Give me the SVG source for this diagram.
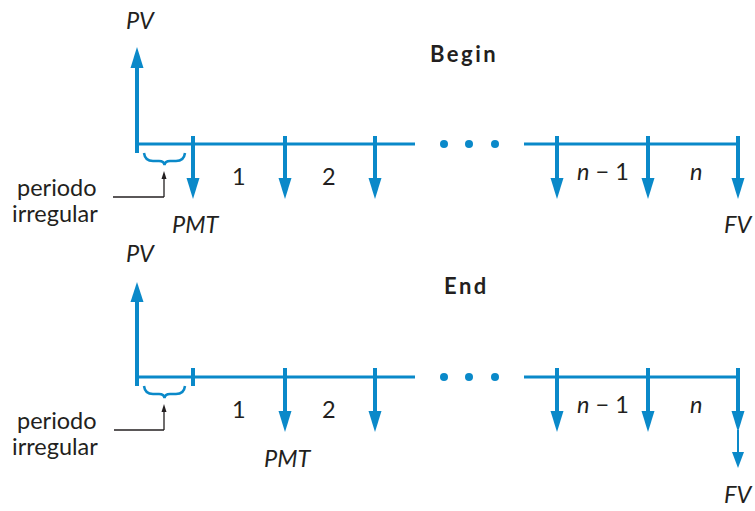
<svg xmlns="http://www.w3.org/2000/svg" width="755" height="511" viewBox="0 0 755 511">
<defs>
<style>
.ax{stroke:#0a89c9;stroke-width:3;fill:none}
.ar{stroke:#0a89c9;stroke-width:4;fill:none}
.thin{stroke:#0a89c9;stroke-width:2;fill:none}
.hd{fill:#0a89c9}
.br{stroke:#0a89c9;stroke-width:2.5;fill:none}
.ld{stroke:#231f20;stroke-width:1.3;fill:none}
.dot{fill:#0a89c9}
text{font-family:Lato,"Open Sans",sans-serif;fill:#231f20;font-size:23.5px}
.it{font-style:italic}
.b{font-weight:bold;letter-spacing:2.5px;font-size:22px}
</style>
</defs>
<rect width="755" height="511" fill="#fff"/>

<!-- Top: Begin -->
<g id="begin-title"><text class="b" x="430" y="62">Begin</text></g>
<g id="begin-pv">
<line class="ar" x1="137" y1="153" x2="137" y2="64"/>
<polygon class="hd" points="137,47 130.5,68 143.5,68"/>
<text class="it" x="126" y="29">PV</text>
</g>
<g id="begin-axis">
<line class="ax" x1="137" y1="144" x2="415" y2="144"/>
<circle class="dot" cx="444" cy="144" r="4"/>
<circle class="dot" cx="469" cy="144" r="4"/>
<circle class="dot" cx="495" cy="144" r="4"/>
<line class="ax" x1="524" y1="144" x2="738" y2="144"/>
</g>
<g id="begin-payments">
<line class="ar" x1="193" y1="136" x2="193" y2="182"/><polygon class="hd" points="193,199 186.5,178 199.5,178"/>
<line class="ar" x1="285" y1="136" x2="285" y2="182"/><polygon class="hd" points="285,199 278.5,178 291.5,178"/>
<line class="ar" x1="375" y1="136" x2="375" y2="182"/><polygon class="hd" points="375,199 368.5,178 381.5,178"/>
<line class="ar" x1="557" y1="136" x2="557" y2="182"/><polygon class="hd" points="557,199 550.5,178 563.5,178"/>
<line class="ar" x1="648" y1="136" x2="648" y2="182"/><polygon class="hd" points="648,199 641.5,178 654.5,178"/>
<line class="ar" x1="738" y1="136" x2="738" y2="182"/><polygon class="hd" points="738,199 731.5,178 744.5,178"/>
</g>
<g id="begin-labels">
<text x="232" y="185">1</text>
<text x="322" y="185">2</text>
<text x="577" y="180"><tspan class="it">n</tspan> − 1</text>
<text class="it" x="690" y="180">n</text>
<text class="it" x="172" y="233">PMT</text>
<text class="it" x="724" y="233">FV</text>
</g>
<g id="begin-irregular">
<path class="br" d="M144,153 Q145,161 153,161 L159,161 Q164,161 164.5,165 Q165,161 170,161 L176,161 Q184,161 185,153"/>
<line class="ld" x1="113" y1="197" x2="164" y2="197"/>
<line class="ld" x1="164" y1="197" x2="164" y2="176"/>
<polygon fill="#231f20" points="164,171 161.5,179 166.5,179"/>
<text x="17" y="196">periodo</text>
<text x="12" y="222">irregular</text>
</g>

<!-- Bottom: End -->
<g id="end-title"><text class="b" x="444" y="294">End</text></g>
<g id="end-pv">
<line class="ar" x1="137" y1="386" x2="137" y2="298"/>
<polygon class="hd" points="137,282 130.5,302 143.5,302"/>
<text class="it" x="126" y="262">PV</text>
</g>
<g id="end-axis">
<line class="ax" x1="137" y1="377" x2="415" y2="377"/>
<circle class="dot" cx="444" cy="377" r="4"/>
<circle class="dot" cx="469" cy="377" r="4"/>
<circle class="dot" cx="495" cy="377" r="4"/>
<line class="ax" x1="524" y1="377" x2="738" y2="377"/>
<line class="ar" x1="193" y1="368" x2="193" y2="386"/>
</g>
<g id="end-payments">
<line class="ar" x1="285" y1="368" x2="285" y2="415"/><polygon class="hd" points="285,432 278.5,411 291.5,411"/>
<line class="ar" x1="375" y1="368" x2="375" y2="415"/><polygon class="hd" points="375,432 368.5,411 381.5,411"/>
<line class="ar" x1="557" y1="368" x2="557" y2="415"/><polygon class="hd" points="557,432 550.5,411 563.5,411"/>
<line class="ar" x1="648" y1="368" x2="648" y2="415"/><polygon class="hd" points="648,432 641.5,411 654.5,411"/>
<line class="ar" x1="738" y1="368" x2="738" y2="415"/><polygon class="hd" points="738,432 731.5,411 744.5,411"/>
<line class="thin" x1="738" y1="430" x2="738" y2="455"/><polygon class="hd" points="738,468 732,452 744,452"/>
</g>
<g id="end-labels">
<text x="232" y="418">1</text>
<text x="322" y="418">2</text>
<text x="577" y="413"><tspan class="it">n</tspan> − 1</text>
<text class="it" x="690" y="413">n</text>
<text class="it" x="264" y="467">PMT</text>
<text class="it" x="724" y="503">FV</text>
</g>
<g id="end-irregular">
<path class="br" d="M144,386 Q145,394 153,394 L159,394 Q164,394 164.5,398 Q165,394 170,394 L176,394 Q184,394 185,386"/>
<line class="ld" x1="114" y1="430" x2="164" y2="430"/>
<line class="ld" x1="164" y1="430" x2="164" y2="409"/>
<polygon fill="#231f20" points="164,404 161.5,412 166.5,412"/>
<text x="17" y="429">periodo</text>
<text x="12" y="455">irregular</text>
</g>
</svg>
